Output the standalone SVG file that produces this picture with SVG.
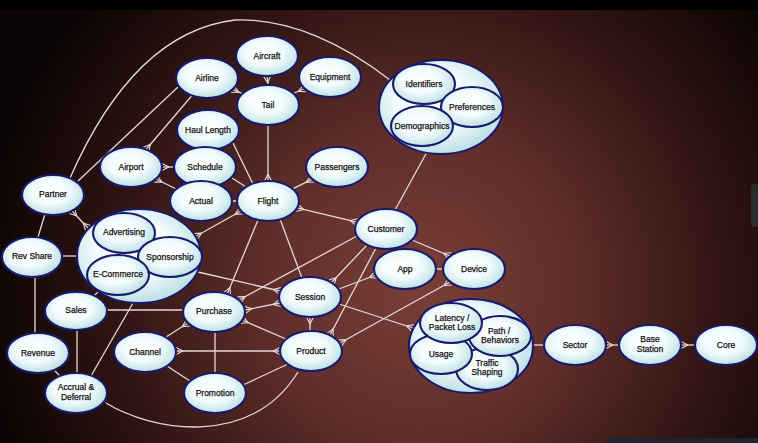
<svg xmlns="http://www.w3.org/2000/svg" width="758" height="443" viewBox="0 0 758 443">
<defs>
<radialGradient id="bg" gradientUnits="userSpaceOnUse" cx="420" cy="285" r="440">
<stop offset="0" stop-color="#7a3e38"/>
<stop offset="0.35" stop-color="#602e2a"/>
<stop offset="0.7" stop-color="#2f1412"/>
<stop offset="1" stop-color="#0b0404"/>
</radialGradient>
<radialGradient id="ng" cx="45%" cy="42%" r="62%">
<stop offset="0" stop-color="#ffffff"/>
<stop offset="0.5" stop-color="#f2fbfc"/>
<stop offset="1" stop-color="#b6dde3"/>
</radialGradient>
<marker id="cf" markerWidth="10" markerHeight="10" refX="7" refY="4" orient="auto-start-reverse" markerUnits="userSpaceOnUse" overflow="visible">
<path d="M0,4 L7,0.5 M0,4 L7,7.5" fill="none" stroke="#e4dcda" stroke-width="1.1"/>
</marker>
</defs>
<style>
.n ellipse{fill:url(#ng);stroke:#1a1a6c;stroke-width:2.1}
.t{font-family:"Liberation Sans",Arial,sans-serif;font-size:8.5px;fill:#111;stroke:#111;stroke-width:0.25;text-anchor:middle}
#connectors path,#connectors line{stroke:#e2dad8;stroke-width:1.3;fill:none}
.m{marker-end:url(#cf)}
.mm{marker-start:url(#cf);marker-end:url(#cf)}
</style>
<rect width="758" height="443" fill="url(#bg)"/>
<rect width="758" height="10" fill="#000"/>
<rect x="751" y="184" width="14" height="43" rx="4" fill="#2a2a2c"/>
<rect x="607" y="438" width="160" height="12" rx="6" fill="#1c2430"/>

<g id="connectors">
<path d="M70,178 C100,110 150,30 235,20 C290,18 345,45 390,80"/>
<path class="m" d="M268,85 L267,76"/>
<path class="m" d="M242.4,93.7 L232.6,89.3"/>
<path class="m" d="M293.4,93.5 L304.6,88.5"/>
<path class="m" d="M268,125 L268,181"/>
<path class="m" d="M192,95.5 L146,149.5"/>
<path d="M178,87 L78,181"/>
<path d="M233,143 L253,184"/>
<path class="m" d="M174,167 L162,167"/>
<path d="M232,178 L246,187"/>
<path class="m" d="M176.2,189 L155.8,179"/>
<path d="M201,201 L268,201"/>
<path class="m" d="M292.6,188.9 L312.4,179.1"/>
<path class="mm" d="M297.1,207.9 L356.9,222.1"/>
<path class="mm" d="M241,211 L195.5,236.5"/>
<path class="m" d="M258,220 L227.3,293.8"/>
<path d="M280,219 L302,278"/>
<path d="M395,210 L427,152"/>
<path class="m" d="M412,240 L450,256"/>
<path class="m" d="M357,236 L239,300"/>
<path class="m" d="M367,245 L331.5,282.5"/>
<path class="m" d="M376,248 L330,335"/>
<path class="m" d="M339,289 L376,275"/>
<path d="M405,269 L474,269"/>
<path class="mm" d="M450,282 L340,343"/>
<path class="m" d="M339,304 L413,328"/>
<path class="m" d="M310,331 L310,317"/>
<path class="mm" d="M280,303 L245,310"/>
<path class="m" d="M198,272 L280,291"/>
<path class="m" d="M286,339 L242,320"/>
<path d="M107,310 L183,310"/>
<path class="m" d="M166,337 L188,323"/>
<path d="M215,332 L215,373"/>
<path class="mm" d="M176,351 L280,351"/>
<path d="M167,366 L190,381"/>
<path d="M243,385 L288,364"/>
<path d="M106,403 C150,430 250,450 298,372"/>
<path d="M91,376 L133,303"/>
<path d="M77,330 L77,373"/>
<path d="M38,353 L76,393"/>
<path d="M35,276 L35,333"/>
<path d="M45,214 L38,237"/>
<path d="M62,256 L77,256"/>
<path class="mm" d="M72,211 L88,228"/>
<path d="M76,311 L118,275"/>
<path d="M533,345 L544,345"/>
<path class="m" d="M619,345 L606,345"/>
<path class="m" d="M695,345 L681,345"/>
</g>

<g id="aircraft" class="n"><ellipse cx="267" cy="56" rx="31" ry="20"/><text class="t" x="267" y="59">Aircraft</text></g>
<g id="airline" class="n"><ellipse cx="207" cy="78" rx="31" ry="20"/><text class="t" x="207" y="81">Airline</text></g>
<g id="equipment" class="n"><ellipse cx="330" cy="77" rx="31" ry="20"/><text class="t" x="330" y="80">Equipment</text></g>
<g id="tail" class="n"><ellipse cx="268" cy="105" rx="31" ry="20"/><text class="t" x="268" y="108">Tail</text></g>
<g id="haul-length" class="n"><ellipse cx="208" cy="130" rx="31" ry="20"/><text class="t" x="208" y="133">Haul Length</text></g>
<g id="airport" class="n"><ellipse cx="131" cy="167" rx="31" ry="20"/><text class="t" x="131" y="170">Airport</text></g>
<g id="schedule" class="n"><ellipse cx="205" cy="167" rx="31" ry="20"/><text class="t" x="205" y="170">Schedule</text></g>
<g id="passengers" class="n"><ellipse cx="337" cy="167" rx="31" ry="20"/><text class="t" x="337" y="170">Passengers</text></g>
<g id="partner" class="n"><ellipse cx="53" cy="195" rx="31" ry="20"/><text class="t" x="53" y="197">Partner</text></g>
<g id="actual" class="n"><ellipse cx="201" cy="201" rx="31" ry="20"/><text class="t" x="201" y="204">Actual</text></g>
<g id="flight" class="n"><ellipse cx="268" cy="201" rx="31" ry="20"/><text class="t" x="268" y="204">Flight</text></g>
<g id="customer" class="n"><ellipse cx="386" cy="229" rx="31" ry="20"/><text class="t" x="386" y="232">Customer</text></g>
<g id="rev-share" class="n"><ellipse cx="32" cy="257" rx="30" ry="20"/><text class="t" x="32" y="259">Rev Share</text></g>
<g id="marketing-group" class="n">
<ellipse cx="139" cy="256" rx="62" ry="47"/>
<g id="advertising"><ellipse cx="124" cy="233" rx="31" ry="20"/><text class="t" x="124" y="235">Advertising</text></g>
<g id="sponsorship"><ellipse cx="170" cy="257" rx="32" ry="20"/><text class="t" x="170" y="260">Sponsorship</text></g>
<g id="e-commerce"><ellipse cx="118" cy="275" rx="31" ry="20"/><text class="t" x="118" y="277">E-Commerce</text></g>
</g>
<g id="app" class="n"><ellipse cx="405" cy="269" rx="31" ry="20"/><text class="t" x="405" y="272">App</text></g>
<g id="device" class="n"><ellipse cx="474" cy="269" rx="31" ry="20"/><text class="t" x="474" y="272">Device</text></g>
<g id="session" class="n"><ellipse cx="310" cy="297" rx="31" ry="20"/><text class="t" x="310" y="300">Session</text></g>
<g id="sales" class="n"><ellipse cx="76" cy="311" rx="31" ry="19"/><text class="t" x="76" y="313">Sales</text></g>
<g id="purchase" class="n"><ellipse cx="214" cy="312" rx="31" ry="20"/><text class="t" x="214" y="314">Purchase</text></g>
<g id="revenue" class="n"><ellipse cx="38" cy="353" rx="31" ry="20"/><text class="t" x="38" y="356">Revenue</text></g>
<g id="channel" class="n"><ellipse cx="145" cy="352" rx="31" ry="20"/><text class="t" x="145" y="355">Channel</text></g>
<g id="product" class="n"><ellipse cx="311" cy="351" rx="31" ry="20"/><text class="t" x="311" y="354">Product</text></g>
<g id="accrual-deferral" class="n"><ellipse cx="76" cy="393" rx="31" ry="20"/><text class="t" x="76" y="390">Accrual &amp;</text><text class="t" x="76" y="400">Deferral</text></g>
<g id="promotion" class="n"><ellipse cx="215" cy="393" rx="31" ry="20"/><text class="t" x="215" y="396">Promotion</text></g>
<g id="customer-profile-group" class="n">
<ellipse cx="441" cy="107" rx="62" ry="47"/>
<g id="identifiers"><ellipse cx="424" cy="84" rx="31" ry="20"/><text class="t" x="424" y="87">Identifiers</text></g>
<g id="preferences"><ellipse cx="472" cy="107" rx="31" ry="20"/><text class="t" x="472" y="110">Preferences</text></g>
<g id="demographics"><ellipse cx="422" cy="126" rx="31" ry="20"/><text class="t" x="422" y="129">Demographics</text></g>
</g>
<g id="network-group" class="n">
<ellipse cx="471" cy="346" rx="62" ry="47"/>
<g id="traffic-shaping"><ellipse cx="487" cy="369" rx="31" ry="21"/><text class="t" x="487" y="366">Traffic</text><text class="t" x="487" y="375">Shaping</text></g>
<g id="path-behaviors"><ellipse cx="500" cy="336" rx="31" ry="20"/><text class="t" x="499" y="334">Path /</text><text class="t" x="500" y="343">Behaviors</text></g>
<g id="usage"><ellipse cx="441" cy="354" rx="31" ry="20"/><text class="t" x="441" y="357">Usage</text></g>
<g id="latency"><ellipse cx="451" cy="323" rx="31" ry="20"/><text class="t" x="452" y="321">Latency /</text><text class="t" x="452" y="330">Packet Loss</text></g>
</g>
<g id="sector" class="n"><ellipse cx="575" cy="345" rx="31" ry="20"/><text class="t" x="575" y="348">Sector</text></g>
<g id="base-station" class="n"><ellipse cx="650" cy="345" rx="31" ry="20"/><text class="t" x="650" y="342">Base</text><text class="t" x="650" y="352">Station</text></g>
<g id="core" class="n"><ellipse cx="726" cy="345" rx="31" ry="20"/><text class="t" x="726" y="348">Core</text></g>
</svg>
